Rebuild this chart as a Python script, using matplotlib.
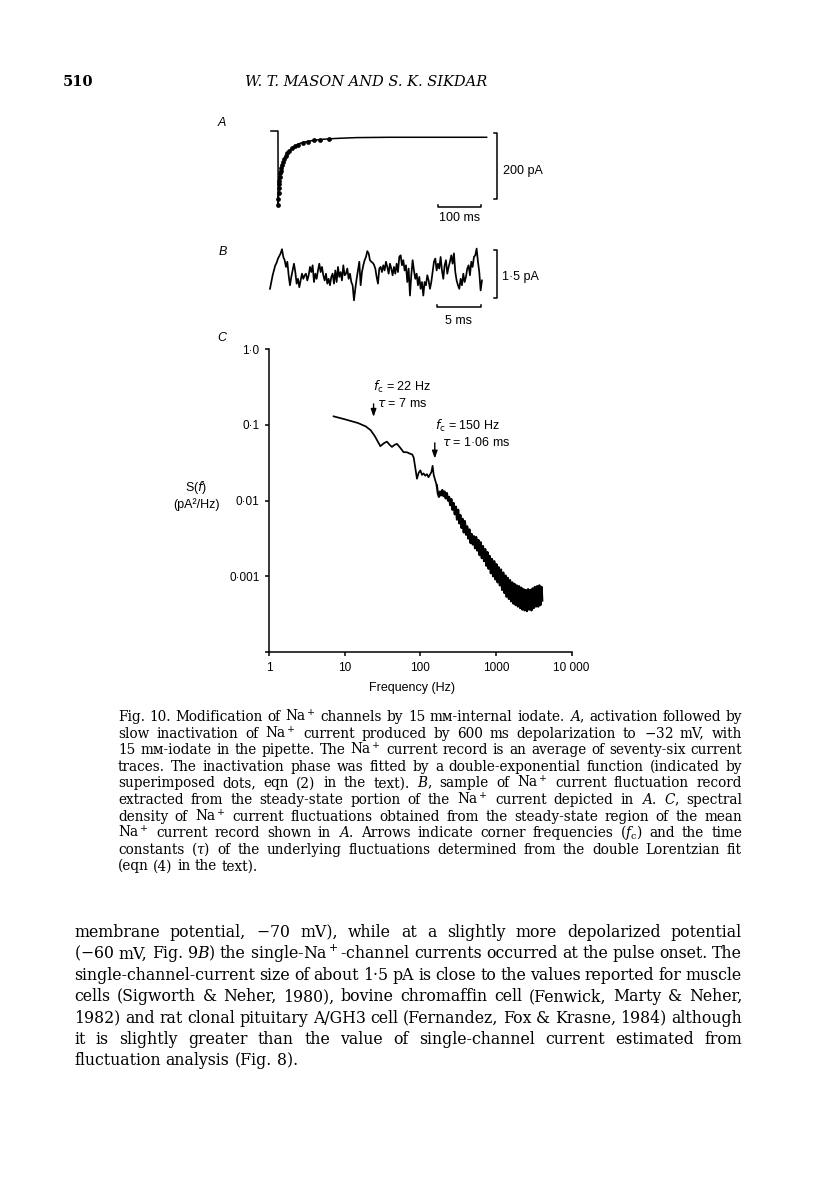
import matplotlib
matplotlib.use("Agg")
import numpy as np
import matplotlib.pyplot as plt

W, H = 816, 1181
SANS = ["Liberation Sans", "DejaVu Sans"]
SERIF = ["DejaVu Serif", "DejaVu Sans"]

# ---- panel A: averaged Na+ current (ms, pA) ----
a_t = [-16.5, 0, 0.5, 1, 1.5, 2, 3, 4, 6, 8.7, 12, 16.5, 22, 28, 36, 44, 55,
       68, 85, 107, 130, 146, 186, 264, 492]
a_i = [0, 0, -229, -205, -188, -172, -150, -138, -121, -108, -95, -80, -68,
       -58, -49, -42, -36, -32, -28, -25, -23, -22, -20, -19, -19]
# double-exponential fit (superimposed dots)
dot_t = [0.5, 1, 1.5, 2, 2.5, 3, 4, 5, 6, 8, 10, 12, 15, 18, 22, 27, 33, 40,
         48, 58, 70, 85, 100, 120]
dot_i = [-225, -205, -188, -172, -160, -150, -138, -128, -121, -111, -102,
         -95, -85, -77, -68, -60, -53, -46, -41, -36, -32, -28, -26, -24]

# ---- panel B: current fluctuation record (pA), sampled every 0.1536 ms ----
b_dt = 0.1536
b_i = [-0.46, -0.25, -0.04, 0.11, 0.27, 0.35, 0.48, 0.56, 0.64, 0.77,
       0.53, 0.43, 0.22, 0.38, -0.04, -0.35, -0.09, 0.11, 0.32, 0.06,
       -0.30, -0.15, -0.41, -0.20, 0.01, -0.15, -0.04, 0.01, -0.20, -0.04,
       0.22, 0.06, 0.27, -0.25, 0.01, -0.15, 0.11, 0.32, 0.06, 0.22,
       -0.04, -0.20, 0.01, -0.30, -0.15, -0.35, -0.09, 0.01, -0.30, 0.11,
       -0.25, 0.22, -0.09, 0.06, -0.20, 0.27, -0.04, 0.01, 0.17, -0.15,
       0.01, -0.25, -0.35, -0.82, -0.46, -0.15, 0.11, 0.38, -0.35, 0.06,
       0.27, 0.43, 0.53, 0.71, 0.64, 0.43, 0.38,
       0.35, 0.29, 0.17, -0.09, -0.30, 0.17, 0.22, 0.06, 0.27, 0.11,
       0.38, 0.22, 0.01, 0.32, 0.17, -0.04, 0.22, 0.01, 0.32, 0.06,
       0.53, 0.58, 0.27, 0.43, 0.11, 0.27, -0.25, 0.17, -0.67, -0.04,
       0.43, 0.11, -0.15, 0.01, -0.35, -0.09, -0.46, -0.25, -0.67, -0.25,
       -0.35, -0.04, -0.20, -0.46, -0.25, 0.06, 0.38, 0.48, 0.11, 0.32,
       0.17, 0.53, 0.11, -0.15, 0.27, 0.43, 0.01, 0.22, 0.38, 0.58,
       0.32, 0.64, 0.06, -0.20, -0.35, -0.46, -0.15, -0.35, 0.01, -0.25,
       -0.09, 0.17, 0.27, -0.04, 0.38, 0.22, 0.53, 0.58, 0.79, 0.38,
       0.06, -0.51, -0.20]

# ---- panel C: spectral density, log10 S(f) in pA^2/Hz ----
low_f = [7.1, 10, 15, 19, 22, 25, 29.5, 33, 36, 39,
         42, 46, 49, 54, 60, 66, 73, 78, 81.5, 86,
         90, 95, 100, 105, 110, 116, 122, 128, 135, 140,
         145, 150, 158, 165]
low_logs = [-0.886, -0.925, -0.975, -1.02, -1.07, -1.15, -1.28, -1.24, -1.22, -1.26,
            -1.29, -1.26, -1.25, -1.30, -1.36, -1.36, -1.38, -1.39, -1.43, -1.58,
            -1.71, -1.63, -1.60, -1.66, -1.64, -1.67, -1.65, -1.69, -1.65, -1.62,
            -1.54, -1.66, -1.74, -1.80]
tail_f = [170, 176, 182, 188, 195, 202, 209, 216, 224, 232,
          240, 248, 257, 266, 275, 285, 295, 305, 316, 327,
          338, 350, 362, 375, 388, 402, 416, 430, 445, 461,
          477, 494, 511, 529, 547, 566, 586, 607, 628, 650,
          673, 696, 721, 746, 772, 799, 827, 856, 886, 917,
          949, 982, 1016, 1052, 1089, 1127, 1166, 1207, 1249, 1293,
          1338, 1385, 1434, 1484, 1536, 1590, 1645, 1703, 1762, 1824,
          1888, 1954, 2022, 2093, 2166, 2242, 2321, 2402, 2486, 2573,
          2663, 2756, 2853, 2953, 3056, 3163, 3274, 3388, 3507, 3630,
          3757, 3888, 4024, 4100]
tail_logs = [-1.90, -1.95, -1.88, -1.93, -1.86, -1.94, -1.88, -1.97, -1.90, -2.00,
             -1.95, -2.06, -1.98, -2.12, -2.03, -2.18, -2.08, -2.25, -2.12, -2.30,
             -2.19, -2.36, -2.24, -2.42, -2.27, -2.45, -2.34, -2.50, -2.38, -2.56,
             -2.44, -2.58, -2.47, -2.63, -2.48, -2.66, -2.52, -2.72, -2.55, -2.76,
             -2.60, -2.80, -2.64, -2.86, -2.68, -2.90, -2.73, -2.96, -2.77, -3.00,
             -2.80, -3.04, -2.84, -3.08, -2.88, -3.12, -2.91, -3.18, -2.95, -3.22,
             -2.99, -3.27, -3.02, -3.30, -3.05, -3.33, -3.08, -3.36, -3.10, -3.38,
             -3.12, -3.40, -3.13, -3.42, -3.15, -3.44, -3.17, -3.45, -3.18, -3.46,
             -3.17, -3.44, -3.18, -3.45, -3.16, -3.42, -3.14, -3.40, -3.13, -3.40,
             -3.12, -3.38, -3.14, -3.32]
# corner-frequency arrows: frequency, tail S, tip S
arrow_f = [24, 155]
arrow_tail = [0.19, 0.058]
arrow_tip = [0.128, 0.036]

c_yticks = [1e-4, 1e-3, 1e-2, 1e-1, 1]
c_ylabels = ["", "0·001", "0·01", "0·1", "1·0"]
c_xticks = [1, 10, 100, 1000, 10000]
c_xlabels = ["1", "10", "100", "1000", "10 000"]

caption = [
    "Fig. 10. Modification of Na$^+$ channels by 15 mᴍ-internal iodate. $A$, activation followed by",
    "slow inactivation of Na$^+$ current produced by 600 ms depolarization to $-$32 mV, with",
    "15 mᴍ-iodate in the pipette. The Na$^+$ current record is an average of seventy-six current",
    "traces. The inactivation phase was fitted by a double-exponential function (indicated by",
    "superimposed dots, eqn (2) in the text). $B$, sample of Na$^+$ current fluctuation record",
    "extracted from the steady-state portion of the Na$^+$ current depicted in $A$. $C$, spectral",
    "density of Na$^+$ current fluctuations obtained from the steady-state region of the mean",
    "Na$^+$ current record shown in $A$. Arrows indicate corner frequencies ($f_\\mathrm{c}$) and the time",
    "constants ($\\tau$) of the underlying fluctuations determined from the double Lorentzian fit",
    "(eqn (4) in the text).",
]
body = [
    "membrane potential, $-$70 mV), while at a slightly more depolarized potential",
    "($-$60 mV, Fig. 9$B$) the single-Na$^+$-channel currents occurred at the pulse onset. The",
    "single-channel-current size of about 1·5 pA is close to the values reported for muscle",
    "cells (Sigworth & Neher, 1980), bovine chromaffin cell (Fenwick, Marty & Neher,",
    "1982) and rat clonal pituitary A/GH3 cell (Fernandez, Fox & Krasne, 1984) although",
    "it is slightly greater than the value of single-channel current estimated from",
    "fluctuation analysis (Fig. 8).",
]

fig = plt.figure(figsize=(W / 100, H / 100), dpi=100)


def px_axes(left, top, right, bottom):
    return fig.add_axes([left / W, 1 - bottom / H, (right - left) / W, (bottom - top) / H])


def ptext(x, y, s, **kw):
    kw.setdefault("family", SANS)
    kw.setdefault("math_fontfamily", "dejavusans")
    return fig.text(x / W, 1 - y / H, s, **kw)


def justify(lines, left, right, y0, dy, size):
    # place word by word so that every line but the last fills the measure
    rend = fig.canvas.get_renderer()
    space = size * 0.32 * 100 / 72
    for k, line in enumerate(lines):
        words = line.split(" ")
        y = y0 + k * dy
        txts = [ptext(0, y, w, family=SERIF, math_fontfamily="dejavuserif",
                      fontsize=size, va="baseline") for w in words]
        widths = [t.get_window_extent(rend).width for t in txts]
        if k == len(lines) - 1 or len(words) < 2:
            gap = space
        else:
            gap = (right - left - sum(widths)) / (len(words) - 1)
        x = left
        for t, wd in zip(txts, widths):
            t.set_x(x / W)
            x += wd + gap


# header
ptext(78, 82, "510", family=SERIF, fontsize=10.5, ha="center", va="center", weight="bold")
ptext(366, 82, "W. T. MASON AND S. K. SIKDAR", family=SERIF, fontsize=10.5,
      style="italic", ha="center", va="center")

lw = 1.1
# ---- A ----
axA = px_axes(261, 122.75, 532.4, 230)
axA.set_xlim(-40, 600)
axA.set_ylim(-300, 25)
axA.axis("off")
axA.plot(a_t, a_i, color="black", lw=lw)
axA.plot(dot_t, dot_i, "o", color="black", ms=2.4)
axA.plot([509, 516, 516, 509], [-7, -7, -207, -207], color="black", lw=lw, clip_on=False)
axA.plot([378, 378, 478, 478], [-223, -231, -231, -223], color="black", lw=lw, clip_on=False)
axA.text(531, -121, "200 pA", family=SANS, fontsize=9, ha="left", va="center")
axA.text(428, -265, "100 ms", family=SANS, fontsize=9, ha="center", va="center")
ptext(222, 123, "A", fontsize=9, style="italic", ha="center", va="center")

# ---- B ----
axB = px_axes(261.3, 241.8, 556.4, 325.5)
axB.set_xlim(-1, 33)
axB.set_ylim(-1.6, 1.0)
axB.axis("off")
b_t = np.arange(len(b_i)) * b_dt
axB.plot(b_t, b_i, color="black", lw=1.25)
axB.plot([25.8, 26.1, 26.1, 25.8], [0.745, 0.745, -0.755, -0.755], color="black", lw=lw, clip_on=False)
axB.plot([19.27, 19.27, 24.27, 24.27], [-0.95, -1.03, -1.03, -0.95], color="black", lw=lw, clip_on=False)
axB.text(26.7, -0.08, "1·5 pA", family=SANS, fontsize=9, ha="left", va="center")
axB.text(21.77, -1.47, "5 ms", family=SANS, fontsize=9, ha="center", va="center")
ptext(223, 252, "B", fontsize=9, style="italic", ha="center", va="center")

# ---- C ----
axC = px_axes(269.3, 349.3, 571.5, 652)
axC.plot(low_f, 10 ** np.array(low_logs), color="black", lw=1.25)
# noisy high-frequency part drawn a little heavier so it reads as a band
axC.plot(low_f[-1:] + tail_f, 10 ** np.array(low_logs[-1:] + tail_logs),
         color="black", lw=1.6)
axC.set_xscale("log")
axC.set_yscale("log")
axC.set_xlim(1, 1e4)
axC.set_ylim(1e-4, 1)
for side in ("top", "right"):
    axC.spines[side].set_visible(False)
for side in ("left", "bottom"):
    axC.spines[side].set_linewidth(1.1)
axC.set_xticks(c_xticks)
axC.set_xticklabels(c_xlabels)
axC.set_yticks(c_yticks)
axC.set_yticklabels(c_ylabels)
axC.minorticks_off()
axC.tick_params(direction="out", length=3, width=1.1, labelsize=8.5, pad=4)
for lab in axC.get_xticklabels() + axC.get_yticklabels():
    lab.set_family(SANS)
for f, s0, s1 in zip(arrow_f, arrow_tail, arrow_tip):
    axC.annotate("", xy=(f, s1), xytext=(f, s0),
                 arrowprops=dict(arrowstyle="-|>,head_length=0.45,head_width=0.16",
                                 color="black", lw=1.0, shrinkA=0, shrinkB=0))
ptext(373, 387, "$f_\\mathrm{c}$ = 22 Hz", fontsize=9, ha="left", va="center")
ptext(377, 404, "$\\tau$ = 7 ms", fontsize=9, ha="left", va="center")
ptext(435, 426, "$f_\\mathrm{c}$ = 150 Hz", fontsize=9, ha="left", va="center")
ptext(442, 443, "$\\tau$ = 1·06 ms", fontsize=9, ha="left", va="center")
ptext(196, 487, "S($f$)", fontsize=9, ha="center", va="center")
ptext(196, 505, "(pA²/Hz)", fontsize=9, ha="center", va="center")
ptext(412, 688, "Frequency (Hz)", fontsize=9, ha="center", va="center")
ptext(222, 338, "C", fontsize=9, style="italic", ha="center", va="center")

# ---- caption and running text ----
justify(caption, 118, 742, 721, 16.6, 9.8)
justify(body, 74, 742, 937, 21.4, 11.3)

fig.savefig("out.png", dpi=100)
